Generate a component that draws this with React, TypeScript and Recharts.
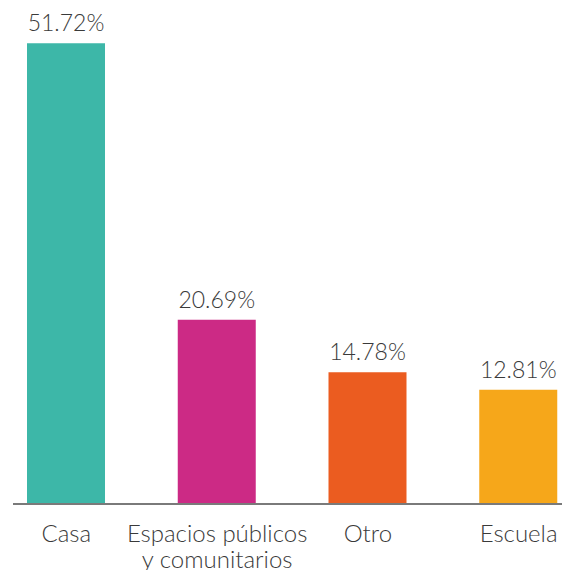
import React from "react";
import { BarChart, Bar, XAxis, YAxis, Cell, LabelList } from "recharts";

const categories = ["Casa", "Espacios públicos|y comunitarios", "Otro", "Escuela"];
const values = [51.72, 20.69, 14.78, 12.81];
const colors = ["#3db7a8", "#cc2a85", "#eb5c20", "#f6a71a"];

const data = categories.map((c, i) => ({ name: c, value: values[i] }));

const FONT = "Lato, 'Noto Sans', sans-serif";

const Tick = (props: any) => {
  const { x, y, payload } = props;
  const lines = String(payload.value).split("|");
  return (
    <text
      x={x}
      y={y}
      textAnchor="middle"
      fill="#3a3a3a"
      fontFamily={FONT}
      fontWeight={300}
      fontSize={24}
    >
      {lines.map((l, i) => (
        <tspan key={i} x={x} dy={i === 0 ? 30 : 26}>
          {l}
        </tspan>
      ))}
    </text>
  );
};

export default function App() {
  return (
    <BarChart
      width={562}
      height={562}
      data={data}
      margin={{ top: 6, right: 0, bottom: 0, left: 5 }}
    >
      <YAxis hide domain={[0, 55]} />
      <XAxis
        dataKey="name"
        tickLine={false}
        axisLine={{ stroke: "#7a7a7a", strokeWidth: 2 }}
        height={66}
        interval={0}
        padding={{ left: -22, right: -24 }}
        tick={<Tick />}
      />
      <Bar dataKey="value" barSize={78} isAnimationActive={false}>
        {data.map((d, i) => (
          <Cell key={i} fill={colors[i]} />
        ))}
        <LabelList
          dataKey="value"
          position="top"
          offset={12}
          formatter={(v: any) => `${Number(v).toFixed(2)}%`}
          fill="#3a3a3a"
          fontFamily={FONT}
          fontWeight={300}
          fontSize={23}
        />
      </Bar>
    </BarChart>
  );
}
